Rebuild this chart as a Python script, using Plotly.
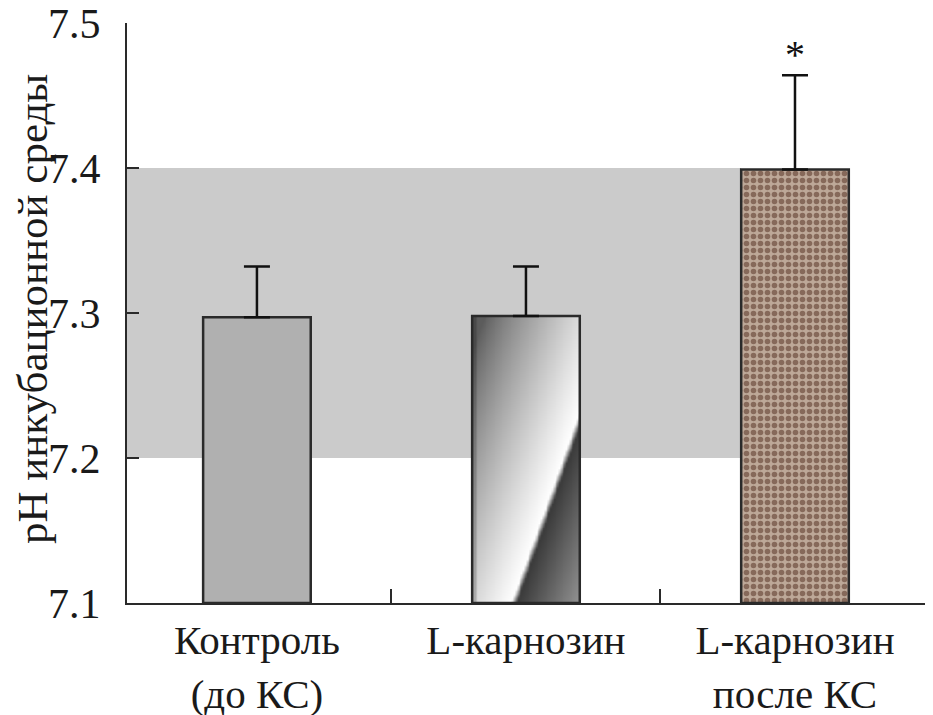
import numpy as np
import plotly.graph_objects as go

categories = ["Контроль<br>(до КС)", "L-карнозин", "L-карнозин<br>после КС"]
values = [7.297, 7.298, 7.399]
errors = [0.035, 0.034, 0.065]
ref_low, ref_high = 7.2, 7.4
y_min, y_max = 7.1, 7.5
y_ticks = [7.1, 7.2, 7.3, 7.4, 7.5]
y_title = "pH инкубационной среды"
signif = ["", "", "*"]

xpos = np.arange(len(categories))
bar_w = 0.4
x_lo, x_hi = -0.483, 2.513

# gradient texture for the second bar (style only)
nx, ny = 60, 120
xe = np.linspace(xpos[1] - bar_w / 2, xpos[1] + bar_w / 2, nx + 1)
ye = np.linspace(y_min, values[1], ny + 1)
u = (np.arange(nx) + 0.5) / nx
v = (np.arange(ny) + 0.5) / ny
U, V = np.meshgrid(u, v)
line_u = 0.36 + 0.955 * V
d = U - line_u
left = 0.36 + 0.64 * np.clip(1 + d / 1.2, 0, 1) ** 0.8
left = np.where(U < 0.04, left * 0.8, left)
right = 0.2 + 0.38 * np.clip(d / 0.64, 0, 1)
trans = np.clip(d / 0.05, 0, 1)
Z = np.where(d < 0, left, (1 - trans) * 1.0 + trans * right)

FS = "'Liberation Serif', 'Times New Roman', Times, serif"
TXT = "#1a1a1a"

fig = go.Figure()
fig.add_trace(go.Heatmap(
    x=xe, y=ye, z=Z, colorscale=[[0, "#000000"], [1, "#ffffff"]],
    zmin=0, zmax=1, showscale=False, zsmooth="best", hoverinfo="skip",
))

fill_colors = ["#b0b0b0", "rgba(0,0,0,0)", "#b59d8d"]
for i in range(len(categories)):
    marker = dict(color=fill_colors[i], line=dict(color="#2a2a2a", width=2.5))
    if i == 2:
        marker["pattern"] = dict(shape=".", fgcolor="#86695a", bgcolor="#bda898",
                                 size=7, solidity=0.5, fillmode="replace")
    fig.add_trace(go.Bar(
        x=[xpos[i]], y=[values[i] - y_min], base=y_min, width=bar_w,
        marker=marker, showlegend=False,
        error_y=dict(type="data", symmetric=False, array=[errors[i]], arrayminus=[0],
                     color="#111111", thickness=2.5, width=13),
    ))

# reference band
fig.add_shape(type="rect", xref="x", yref="y", x0=x_lo, x1=xpos[2] - bar_w / 2,
              y0=ref_low, y1=ref_high, fillcolor="#cbcbcb", line=dict(width=0),
              layer="below")

for i, s in enumerate(signif):
    if s:
        fig.add_annotation(x=xpos[i], y=values[i] + errors[i], text=s, showarrow=False,
                           yshift=21, font=dict(size=40, color="#111111", family=FS))

# y-axis title
fig.add_annotation(xref="paper", yref="paper", x=0, y=0.5, xshift=-95, yshift=4,
                   text=y_title, textangle=-90, showarrow=False,
                   xanchor="center", yanchor="middle",
                   font=dict(size=43, family=FS, color=TXT))

fig.update_layout(
    width=925, height=707,
    margin=dict(l=119, r=0, t=15, b=112),
    paper_bgcolor="white", plot_bgcolor="white",
    showlegend=False, barmode="overlay",
    font=dict(family=FS, color=TXT),
    xaxis=dict(range=[x_lo, x_hi], tickvals=list(xpos), ticktext=categories,
               ticks="", showline=True, linecolor="#2a2a2a", linewidth=2,
               showgrid=False, zeroline=False, automargin=False,
               tickfont=dict(size=41, family=FS, color=TXT),
               ticklabelstandoff=0, ticklabeloverflow="allow",
               minor=dict(tickmode="array", tickvals=list(xpos[:-1] + 0.5),
                          ticks="inside", ticklen=14, tickwidth=2, tickcolor="#2a2a2a")),
    yaxis=dict(range=[y_min, y_max], tickvals=y_ticks, ticktext=[f"{t:.1f}" for t in y_ticks],
               ticks="inside", ticklen=12, tickwidth=2, tickcolor="#2a2a2a",
               showline=True, linecolor="#2a2a2a", linewidth=2, showgrid=False,
               zeroline=False, automargin=False, ticklabeloverflow="allow",
               tickfont=dict(size=42, family=FS, color=TXT), ticklabelstandoff=16),
)

fig.write_html("out.html")
